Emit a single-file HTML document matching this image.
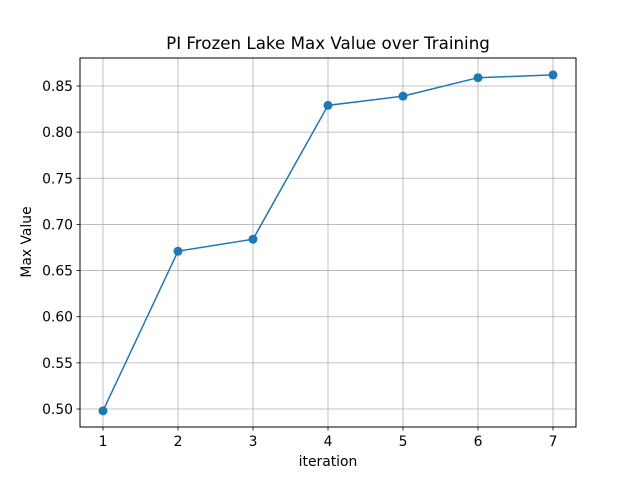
<!DOCTYPE html>
<html><head><meta charset="utf-8"><style>
body{margin:0;background:#fff}
svg text{font-family:"DejaVu Sans","Liberation Sans",sans-serif;fill:#000}
</style></head><body>
<svg id="chart" width="640" height="480" xmlns="http://www.w3.org/2000/svg">
<rect width="640" height="480" fill="#fff"/>
<g id="grid"></g>
<g id="ticks"></g>
<g id="series"></g>
<rect x="80" y="58" width="496" height="369" fill="none" stroke="#000" stroke-width="1"/>
<text x="328" y="49" font-size="16.7" text-anchor="middle">PI Frozen Lake Max Value over Training</text>
<text x="328" y="466" font-size="13.9" text-anchor="middle">iteration</text>
<text x="31" y="242" font-size="13.9" text-anchor="middle" transform="rotate(-90 31 242)">Max Value</text>
</svg>
<script>
const iterations=[1,2,3,4,5,6,7];
const maxValues=[0.498,0.671,0.684,0.829,0.839,0.859,0.862];
const xTicks=[1,2,3,4,5,6,7];
const yTicks=[0.50,0.55,0.60,0.65,0.70,0.75,0.80,0.85];

const NS="http://www.w3.org/2000/svg";
function xs(v){return 103+(v-1)*75;}
function ys(v){return 409-(v-0.5)/0.35*323;}
function mk(t,a,p){const e=document.createElementNS(NS,t);for(const k in a)e.setAttribute(k,a[k]);p.appendChild(e);return e;}
const grid=document.getElementById('grid'),ticks=document.getElementById('ticks'),ser=document.getElementById('series');
xTicks.forEach(v=>{const x=xs(v);
 const g=mk('line',{x1:x,x2:x,y1:58,y2:427,stroke:'#b0b0b0','stroke-width':0.8},grid);
 
 
 mk('line',{x1:x,x2:x,y1:427,y2:430.5,stroke:'#000','stroke-width':0.8},ticks);
 const t=mk('text',{x:x,y:446,'font-size':13.9,'text-anchor':'middle'},ticks);t.textContent=v;
 
 
});
yTicks.forEach(v=>{const y=ys(v);
 const g=mk('line',{x1:80,x2:576,y1:y,y2:y,stroke:'#b0b0b0','stroke-width':0.8},grid);
 
 
 mk('line',{x1:76.5,x2:80,y1:y,y2:y,stroke:'#000','stroke-width':0.8},ticks);
 const t=mk('text',{x:73,y:y+5,'font-size':13.9,'text-anchor':'end'},ticks);t.textContent=v.toFixed(2);
 
 
});
const pts=iterations.map((v,i)=>xs(v)+','+ys(maxValues[i])).join(' ');
const pl=mk('polyline',{points:pts,fill:'none',stroke:'#1f77b4','stroke-width':1.5},ser);


iterations.forEach((v,i)=>{
 const c=mk('circle',{cx:xs(v),cy:ys(maxValues[i]),r:4.5,fill:'#1f77b4'},ser);
 
 
});
</script>
</body></html>
